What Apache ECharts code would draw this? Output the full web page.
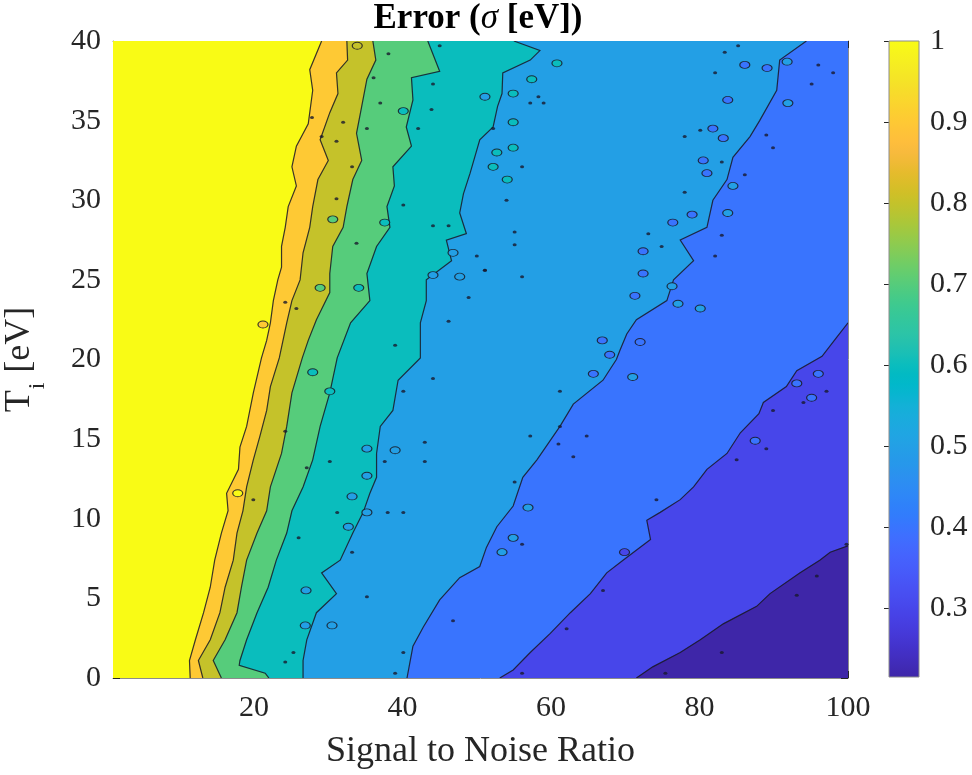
<!DOCTYPE html>
<html>
<head>
<meta charset="utf-8">
<script src="https://cdn.jsdelivr.net/npm/echarts@6/dist/echarts.min.js"></script>
<style>html,body{margin:0;padding:0;background:#fff}#chart{width:972px;height:775px}</style>
</head>
<body>
<div id="chart"></div>
<script>
// ---------- data ----------
const xTicks = [20, 40, 60, 80, 100];
const yTicks = [0, 5, 10, 15, 20, 25, 30, 35, 40];
const cbTicks = [0.3, 0.4, 0.5, 0.6, 0.7, 0.8, 0.9, 1];
const snrRange = [1, 100];
const tiRange = [0, 40];
const colorRange = [0.215, 1];
const contourLevels = [1.0, 0.9, 0.8, 0.7, 0.6, 0.5, 0.4, 0.3];

// contour boundaries, [SNR, Ti] from Ti = 0 upward
const c100 = [[11.4,0],[11.3,1.1],[12.1,2.4],[13.2,4.1],[14.1,5.7],[14.7,7.4],[15.6,9.1],[16.5,10.5],[16.3,11.6],[17.9,13.1],[18.1,14.5],[19.0,15.8],[19.9,17.9],[21.0,20.1],[21.7,21.2],[22.2,22.3],[22.6,23.7],[23.2,25.0],[23.7,25.8],[23.7,27.1],[24.2,28.3],[24.6,29.6],[25.7,30.9],[25.1,32.1],[25.7,33.4],[27.3,34.8],[27.9,36.9],[27.5,38.2],[29.1,40]];
const c090 = [[13.1,0],[12.5,1.1],[14.1,2.4],[15.4,4.1],[16.1,5.7],[17.2,7.4],[17.7,9.1],[18.5,10.5],[19.0,12.0],[19.9,13.7],[20.8,15.2],[21.7,16.8],[22.2,18.3],[23.4,20.1],[24.4,22.3],[25.1,23.7],[26.2,25.0],[26.6,26.7],[27.5,28.3],[27.9,29.6],[28.6,31.3],[30.0,32.5],[28.9,33.8],[30.2,35.5],[31.3,36.7],[31.1,38.0],[32.6,38.8],[32.5,40]];
const c080 = [[15.6,0],[14.5,1.1],[16.1,2.4],[17.7,4.1],[18.3,5.7],[19.0,7.4],[20.4,9.1],[21.7,10.5],[22.2,12.0],[23.7,14.1],[24.4,15.8],[25.1,17.9],[26.5,20.1],[27.3,21.2],[28.4,22.5],[30.2,24.2],[30.2,25.4],[30.6,27.1],[32.0,28.3],[32.5,29.6],[33.3,31.3],[34.5,32.5],[33.8,34.2],[34.5,35.9],[35.2,37.6],[36.4,38.8],[36.0,40]];
const c070 = [[22.0,0],[21.5,0.3],[18.0,0.8],[18.1,1.1],[19.0,2.4],[20.4,4.1],[21.9,5.7],[23.0,7.4],[24.4,9.1],[25.1,10.5],[26.6,12.0],[27.9,13.7],[28.9,15.8],[30.2,17.9],[31.2,20.1],[33.0,22.3],[35.6,23.7],[35.2,25.4],[36.5,27.1],[38.3,28.3],[37.9,29.6],[38.9,30.9],[38.7,32.1],[41.2,33.4],[40.5,34.6],[41.4,36.3],[41.2,37.7],[45.0,38.1],[43.4,40]];
const c060 = [[26.6,0],[26.6,1.1],[27.1,2.4],[28.4,4.1],[31.1,5.3],[29.1,6.6],[31.6,7.4],[33.3,9.1],[34.7,10.4],[35.6,11.6],[36.5,12.6],[36.5,14.1],[37.0,15.8],[38.7,16.8],[39.4,18.7],[42.4,20.1],[42.4,22.3],[43.2,23.7],[43.2,25.0],[46.6,26.2],[45.9,27.5],[48.6,27.9],[47.7,29.2],[48.2,30.4],[49.1,31.7],[50.4,33.8],[52.2,34.6],[52.8,35.9],[53.4,36.7],[53.5,38.0],[57.2,38.8],[58.5,39.4],[55.0,40]];
const c050 = [[40.6,0],[41.4,2.0],[42.8,3.2],[45.0,4.9],[47.7,6.3],[50.4,7.0],[51.3,8.2],[52.7,9.5],[54.9,10.8],[56.2,12.6],[58.1,13.7],[61.2,15.8],[63.0,17.2],[67.0,18.7],[68.8,20.0],[69.3,20.6],[70.2,21.6],[71.5,22.5],[75.6,23.7],[76.5,25.0],[79.2,26.2],[77.4,27.5],[81.0,28.3],[81.8,30.0],[83.7,31.3],[84.5,32.7],[86.8,34.0],[88.1,35.0],[90.4,36.9],[90.8,38.8],[94.4,40]];
const c040 = [[53.1,0],[54.9,0.5],[57.2,1.6],[59.9,2.8],[62.6,4.1],[65.3,5.3],[67.5,6.6],[69.7,7.4],[73.4,8.7],[72.9,9.9],[74.7,10.4],[77.4,11.2],[79.2,12.0],[81.0,13.1],[83.7,14.1],[85.5,15.4],[88.0,16.6],[88.6,17.3],[91.7,18.3],[93.1,19.3],[96.5,20.2],[98.5,21.4],[100,22.3]];
const c030 = [[71.5,0],[73.7,0.7],[77.4,1.6],[80.1,2.4],[83.2,3.4],[87.7,4.5],[89.5,5.3],[93.5,6.6],[96.2,7.4],[97.6,7.9],[100,8.3]];
const contours = [c100, c090, c080, c070, c060, c050, c040, c030];

// small closed contours: [SNR, Ti, level of the island]
const islands = [
  [51.1,36.5,0.5],[46.8,26.7,0.5],[44.1,25.3,0.5],[47.7,25.2,0.5],[35.2,14.4,0.5],[39.0,14.3,0.5],
  [35.2,12.7,0.5],[33.2,11.4,0.5],[35.2,10.4,0.5],[32.7,9.5,0.5],[27.0,5.5,0.5],[26.9,3.3,0.5],[30.5,3.3,0.5],
  [40.1,35.6,0.6],[37.6,28.6,0.6],[34.1,24.5,0.6],[30.2,18.0,0.6],[27.9,19.2,0.6],
  [30.6,28.8,0.7],[28.9,24.5,0.7],[33.9,39.7,0.8],[21.2,22.2,0.9],[17.8,11.6,1.0],
  [57.4,37.6,0.6],[60.8,38.6,0.6],[54.9,36.7,0.6],[54.9,34.9,0.6],[52.7,33.0,0.6],[54.9,33.3,0.6],[54.1,31.3,0.6],[52.2,32.1,0.6],
  [83.8,36.3,0.4],[89.1,38.3,0.4],[86.1,38.5,0.4],[81.8,34.5,0.4],[83.2,33.9,0.4],[80.5,32.5,0.4],[81.0,31.7,0.4],
  [79.0,29.1,0.4],[76.4,28.6,0.4],[72.4,26.8,0.4],[72.4,25.4,0.4],[71.3,24.0,0.4],[72.0,21.1,0.4],[66.9,21.2,0.4],[67.9,20.3,0.4],[65.7,19.1,0.4],
  [91.8,38.7,0.5],[91.9,36.1,0.5],[84.5,30.9,0.5],[83.8,29.2,0.5],[76.3,24.6,0.5],[77.1,23.5,0.5],[80.1,23.2,0.5],
  [56.9,10.7,0.5],[54.9,8.8,0.5],[53.4,7.9,0.5],[71.0,18.9,0.5],
  [87.5,14.9,0.4],[96.0,19.1,0.4],[93.1,18.5,0.4],[95.1,17.6,0.4],[69.9,7.9,0.3]
];
// tiny closed contours (dots): [SNR, Ti]
const dots = [
  [52.2,34.5],[57.2,36.1],[58.3,36.5],[59.0,36.1],[54.0,30.0],[56.1,25.2],[55.1,28.0],[55.1,27.2],[51.1,25.6],
  [78.0,30.5],[73.1,27.9],[74.9,27.1],[82.1,26.5],[83.0,27.8],[78.0,34.0],[80.1,34.4],[89.9,33.3],[89.0,34.1],
  [96.0,38.5],[98.0,38.0],[95.1,37.3],[85.2,39.7],[83.4,39.3],[82.1,38.0],[83.0,32.4],[86.1,31.6],[56.1,32.1],
  [27.8,35.2],[29.1,34.0],[31.1,33.7],[32.0,34.9],[33.2,32.1],[31.1,30.1],[36.1,37.7],[37.0,36.1],[35.2,34.5],
  [38.1,39.2],[45.0,39.7],[44.1,37.3],[43.9,35.7],[40.1,29.7],[44.1,28.4],[46.2,28.4],[50.0,26.5],[51.1,25.6],
  [48.9,23.9],[46.2,22.4],[39.0,20.9],[42.1,34.5],[25.7,23.2],[24.2,23.6],[33.8,27.3],
  [19.9,11.2],[24.2,15.5],[27.1,13.2],[30.2,13.6],[31.2,10.4],[38.0,10.4],[40.1,10.4],[43.0,14.8],[43.0,13.6],
  [37.6,13.6],[26.0,8.8],[33.2,7.9],[35.2,5.1],[46.8,3.6],[25.3,1.6],[24.2,1.0],[40.1,1.6],[39.0,0.3],[44.1,18.8],[40.1,18.0],
  [61.0,14.7],[61.2,18.0],[63.0,13.9],[64.8,15.2],[55.1,12.3],[56.1,8.4],[74.2,11.2],[67.0,5.5],[62.1,3.1],
  [56.1,0.3],[75.4,0.3],[83.0,1.6],[93.1,5.2],[95.8,6.4],[89.0,14.4],[85.0,13.7],[89.9,16.8],[94.0,17.3],[97.1,18.0],
  [99.8,8.4],[61.2,15.8],[57.2,15.2]
];

// MATLAB parula colormap (64 entries)
const parula = [[0.2422,0.1504,0.6603],[0.2504,0.1650,0.7076],[0.2578,0.1818,0.7511],[0.2647,0.1978,0.7952],[0.2706,0.2147,0.8364],[0.2751,0.2342,0.8710],[0.2783,0.2559,0.8991],[0.2803,0.2782,0.9221],[0.2813,0.3006,0.9414],[0.2810,0.3228,0.9579],[0.2795,0.3447,0.9717],[0.2760,0.3667,0.9829],[0.2699,0.3892,0.9906],[0.2602,0.4123,0.9952],[0.2440,0.4358,0.9988],[0.2206,0.4603,0.9973],[0.1963,0.4847,0.9892],[0.1834,0.5074,0.9798],[0.1786,0.5289,0.9682],[0.1764,0.5499,0.9520],[0.1687,0.5703,0.9359],[0.1540,0.5902,0.9218],[0.1460,0.6091,0.9079],[0.1380,0.6276,0.8973],[0.1248,0.6459,0.8883],[0.1113,0.6635,0.8763],[0.0952,0.6798,0.8598],[0.0689,0.6948,0.8394],[0.0297,0.7082,0.8163],[0.0036,0.7203,0.7917],[0.0067,0.7312,0.7660],[0.0433,0.7411,0.7394],[0.0964,0.7500,0.7120],[0.1408,0.7584,0.6842],[0.1717,0.7670,0.6554],[0.1938,0.7758,0.6251],[0.2161,0.7843,0.5923],[0.2470,0.7918,0.5567],[0.2906,0.7973,0.5188],[0.3406,0.8008,0.4789],[0.3909,0.8029,0.4354],[0.4456,0.8024,0.3909],[0.5044,0.7993,0.3480],[0.5616,0.7942,0.3045],[0.6174,0.7876,0.2612],[0.6720,0.7793,0.2227],[0.7242,0.7698,0.1910],[0.7738,0.7598,0.1646],[0.8203,0.7498,0.1535],[0.8634,0.7406,0.1596],[0.9035,0.7330,0.1774],[0.9393,0.7288,0.2100],[0.9728,0.7298,0.2394],[0.9956,0.7434,0.2371],[0.9970,0.7659,0.2199],[0.9952,0.7893,0.2028],[0.9892,0.8136,0.1885],[0.9786,0.8386,0.1766],[0.9676,0.8639,0.1643],[0.9610,0.8890,0.1537],[0.9597,0.9135,0.1423],[0.9628,0.9373,0.1265],[0.9691,0.9606,0.1064],[0.9769,0.9839,0.0805]];

// ---------- helpers ----------
const FONT = '"Liberation Serif", "Times New Roman", serif';
const INK = '#262626';
const FRAME = '#8c8c8c';
function rgb(c) { return 'rgb(' + c.map(v => Math.round(v * 255)).join(',') + ')'; }
function colorOf(v) {
  let t = (v - colorRange[0]) / (colorRange[1] - colorRange[0]);
  t = Math.max(0, Math.min(1, t)) * (parula.length - 1);
  const i = Math.min(parula.length - 2, Math.floor(t)), f = t - i;
  return rgb(parula[i].map((a, j) => a + (parula[i + 1][j] - a) * f));
}
// fill regions: index 0 = whole plot (above top level); k>0 = region right of contour k-1
const fillLevels = [contourLevels[0]].concat(contourLevels.slice(1), [colorRange[0]]);
function regionPoints(k) {
  if (k === 0) return [[snrRange[0], tiRange[0]], [snrRange[0], tiRange[1]], [snrRange[1], tiRange[1]], [snrRange[1], tiRange[0]]];
  const c = contours[k - 1];
  const last = c[c.length - 1];
  return c.concat([[snrRange[1], last[1]], [snrRange[1], tiRange[0]]]);
}

const chart = echarts.init(document.getElementById('chart'), null, { renderer: 'canvas' });
const tickStyle = { show: true, inside: true, length: 7, lineStyle: { color: INK, width: 1 } };
const lineStyle = { show: true, onZero: false, lineStyle: { color: FRAME, width: 1 } };

chart.setOption({
  animation: false,
  backgroundColor: '#ffffff',
  graphic: [{
    type: 'text', x: 478, y: 19, z: 10,
    style: {
      text: '{b|Error (}{i|σ}{b| [eV])}',
      align: 'center', verticalAlign: 'middle',
      rich: {
        b: { fontFamily: FONT, fontSize: 35, fontWeight: 'bold', fill: '#000' },
        i: { fontFamily: FONT, fontSize: 35, fontStyle: 'italic', fill: '#000' }
      }
    }
  }],
  grid: [
    { left: 113, top: 41, width: 735, height: 637, outerBoundsMode: 'none', containLabel: false },
    { left: 889, top: 41, width: 30, height: 636, outerBoundsMode: 'none', containLabel: false }
  ],
  xAxis: [
    { gridIndex: 0, type: 'value', min: snrRange[0], max: snrRange[1], position: 'bottom',
      axisLine: lineStyle, splitLine: { show: false },
      axisTick: Object.assign({ customValues: xTicks }, tickStyle),
      axisLabel: { customValues: xTicks, fontFamily: FONT, fontSize: 30, color: INK, margin: 15 },
      name: 'Signal to Noise Ratio', nameLocation: 'middle', nameGap: 56,
      nameTextStyle: { fontFamily: FONT, fontSize: 36, color: INK } },
    { gridIndex: 0, type: 'value', min: snrRange[0], max: snrRange[1], position: 'top',
      axisLine: lineStyle, splitLine: { show: false },
      axisTick: Object.assign({ customValues: xTicks }, tickStyle), axisLabel: { show: false } },
    { gridIndex: 1, type: 'value', min: 0, max: 1, show: false }
  ],
  yAxis: [
    { gridIndex: 0, type: 'value', min: tiRange[0], max: tiRange[1], position: 'left',
      axisLine: lineStyle, splitLine: { show: false },
      axisTick: Object.assign({ customValues: yTicks }, tickStyle),
      axisLabel: { customValues: yTicks, fontFamily: FONT, fontSize: 30, color: INK, margin: 12 },
      name: '{t|T}{s|i}{t| [eV]}', nameLocation: 'middle', nameGap: 63,
      nameTextStyle: { fontFamily: FONT, fontSize: 36, color: INK,
        rich: { t: { fontFamily: FONT, fontSize: 36, color: INK, verticalAlign: 'top', padding: [0, 0, 12, 0] },
                s: { fontFamily: FONT, fontSize: 24, color: INK, verticalAlign: 'bottom', padding: [0, 1, 0, 1] } } } },
    { gridIndex: 0, type: 'value', min: tiRange[0], max: tiRange[1], position: 'right',
      axisLine: lineStyle, splitLine: { show: false },
      axisTick: Object.assign({ customValues: yTicks }, tickStyle), axisLabel: { show: false } },
    { gridIndex: 1, type: 'value', min: colorRange[0], max: colorRange[1], position: 'right',
      axisLine: { show: false }, splitLine: { show: false },
      axisTick: Object.assign({ customValues: cbTicks }, tickStyle, { length: 5 }),
      axisLabel: { customValues: cbTicks, fontFamily: FONT, fontSize: 30, color: INK, margin: 11 } }
  ],
  series: [
    { // filled contour regions
      type: 'custom', xAxisIndex: 0, yAxisIndex: 0, clip: true, silent: true, z: 1,
      data: fillLevels.map((lv, i) => [i, lv]),
      renderItem: function (params, api) {
        const k = params.dataIndex;
        const pts = regionPoints(k).map(p => api.coord(p));
        const col = colorOf(fillLevels[k]);
        return { type: 'polygon', shape: { points: pts }, style: { fill: col, stroke: col, lineWidth: 0.5 } };
      }
    },
    { // contour lines
      type: 'custom', xAxisIndex: 0, yAxisIndex: 0, clip: true, silent: true, z: 3,
      data: contourLevels.map((lv, i) => [i, lv]),
      renderItem: function (params, api) {
        const pts = contours[params.dataIndex].map(p => api.coord(p));
        return { type: 'polyline', shape: { points: pts }, style: { fill: null, stroke: 'rgba(25,25,35,0.85)', lineWidth: 1.2 } };
      }
    },
    { // island contours
      type: 'scatter', xAxisIndex: 0, yAxisIndex: 0, silent: true, z: 4,
      symbol: 'circle', symbolSize: [10, 7],
      data: islands,
      itemStyle: { color: p => colorOf(p.value[2]), borderColor: 'rgba(25,25,35,0.85)', borderWidth: 1, opacity: 1 }
    },
    { // tiny island contours
      type: 'scatter', xAxisIndex: 0, yAxisIndex: 0, silent: true, z: 4,
      symbol: 'circle', symbolSize: [4, 3],
      data: dots,
      itemStyle: { color: 'rgba(25,25,45,0.8)', opacity: 1 }
    },
    { // colorbar
      type: 'custom', xAxisIndex: 2, yAxisIndex: 2, clip: false, silent: true, z: 2,
      data: [[0.5, 0.5]],
      renderItem: function (params, api) {
        const p0 = api.coord([0, colorRange[1]]);
        const p1 = api.coord([1, colorRange[0]]);
        const stops = parula.map((c, i) => ({ offset: i / (parula.length - 1), color: rgb(c) }));
        return { type: 'rect', shape: { x: p0[0], y: p0[1], width: p1[0] - p0[0], height: p1[1] - p0[1] },
          style: { fill: new echarts.graphic.LinearGradient(0, 1, 0, 0, stops), stroke: FRAME, lineWidth: 1 } };
      }
    }
  ]
});
</script>
</body>
</html>
